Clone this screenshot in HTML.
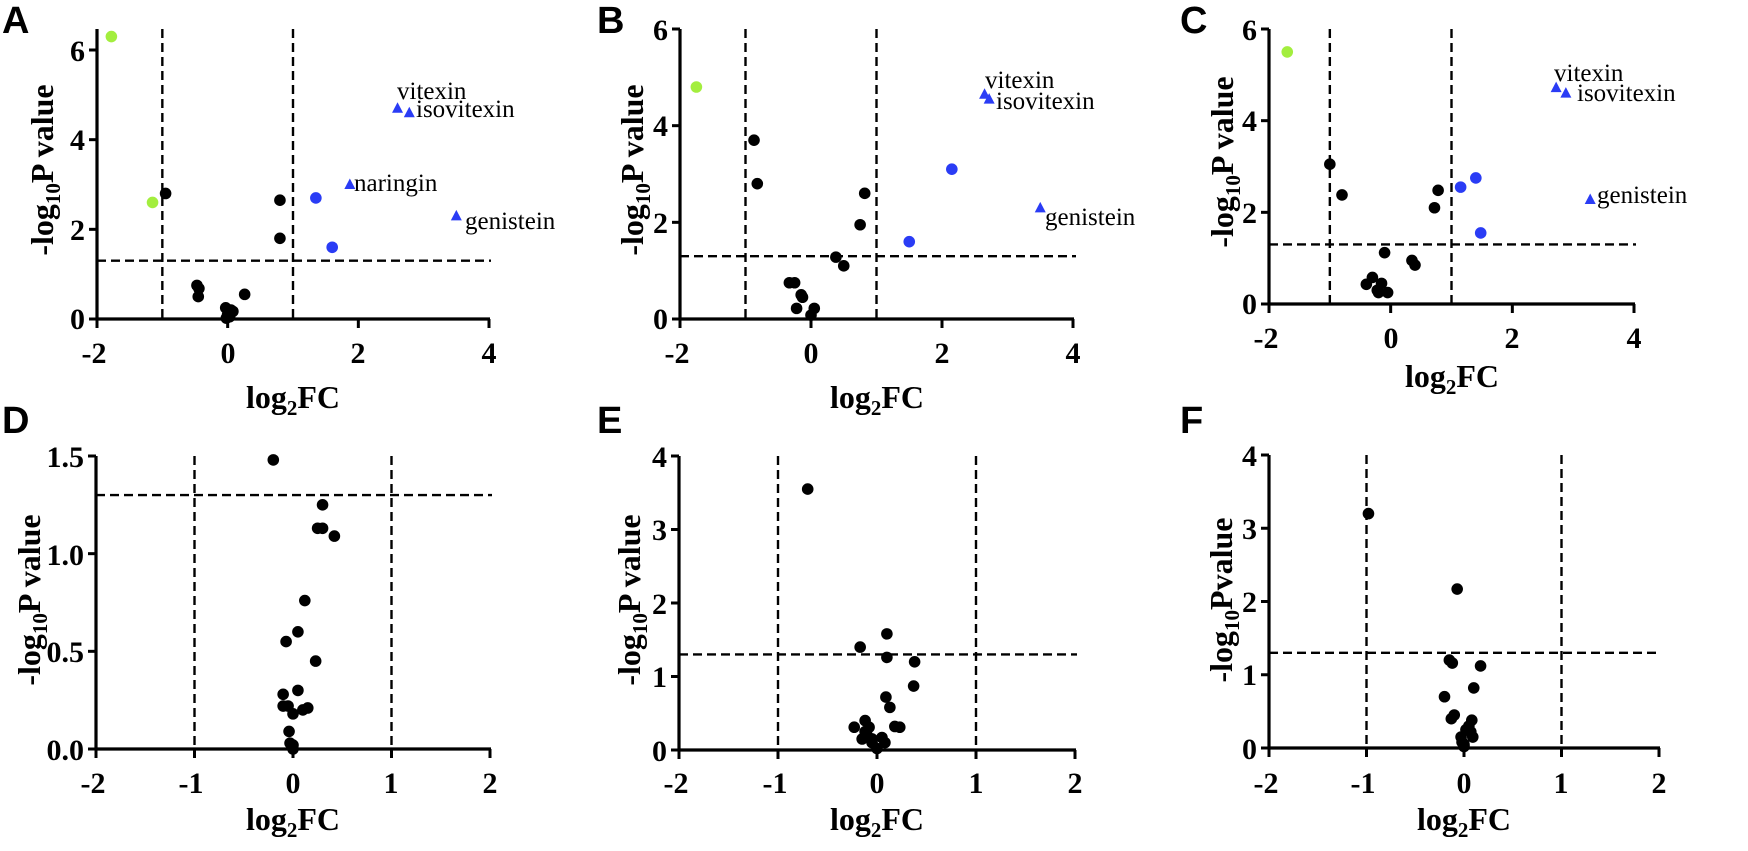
<!DOCTYPE html>
<html><head><meta charset="utf-8"><style>
html,body{margin:0;padding:0;background:#fff;}
svg{display:block;}
.t{font-family:"Liberation Serif",serif;font-weight:bold;font-size:30px;fill:#000;}
.al{font-family:"Liberation Serif",serif;font-weight:bold;font-size:32px;fill:#000;}
.nm{font-family:"Liberation Serif",serif;font-size:25px;fill:#000;}
.L{font-family:"Liberation Sans",sans-serif;font-weight:bold;font-size:38px;fill:#000;}
</style></head><body>
<svg id="s" width="1748" height="851" viewBox="0 0 1748 851" xmlns="http://www.w3.org/2000/svg">
<g id="g"></g>
<text class="L" x="2" y="33">A</text>
<text class="L" x="597" y="33">B</text>
<text class="L" x="1180" y="33">C</text>
<text class="L" x="2" y="433">D</text>
<text class="L" x="597" y="433">E</text>
<text class="L" x="1180" y="433">F</text>

<g class="t" text-anchor="end">
<text x="85" y="329">0</text><text x="85" y="240">2</text><text x="85" y="150">4</text><text x="85" y="61">6</text>
<text x="668" y="329">0</text><text x="668" y="233">2</text><text x="668" y="136">4</text><text x="668" y="40">6</text>
<text x="1257" y="314">0</text><text x="1257" y="223">2</text><text x="1257" y="131">4</text><text x="1257" y="40">6</text>
<text x="84" y="760">0.0</text><text x="84" y="662">0.5</text><text x="84" y="565">1.0</text><text x="84" y="467">1.5</text>
<text x="667" y="761">0</text><text x="667" y="687">1</text><text x="667" y="614">2</text><text x="667" y="540">3</text><text x="667" y="467">4</text>
<text x="1257" y="759">0</text><text x="1257" y="685">1</text><text x="1257" y="612">2</text><text x="1257" y="539">3</text><text x="1257" y="466">4</text>
</g>
<g class="t" text-anchor="middle">
<text x="94" y="363">-2</text><text x="228" y="363">0</text><text x="358" y="363">2</text><text x="489" y="363">4</text>
<text x="677" y="363">-2</text><text x="811" y="363">0</text><text x="942" y="363">2</text><text x="1073" y="363">4</text>
<text x="1266" y="348">-2</text><text x="1391" y="348">0</text><text x="1512" y="348">2</text><text x="1634" y="348">4</text>
<text x="93" y="793">-2</text><text x="191" y="793">-1</text><text x="293" y="793">0</text><text x="391" y="793">1</text><text x="490" y="793">2</text>
<text x="676" y="793">-2</text><text x="775" y="793">-1</text><text x="877" y="793">0</text><text x="976" y="793">1</text><text x="1075" y="793">2</text>
<text x="1266" y="793">-2</text><text x="1363" y="793">-1</text><text x="1464" y="793">0</text><text x="1561" y="793">1</text><text x="1659" y="793">2</text>
</g>
<g class="al" text-anchor="middle">
<text x="293" y="408">log<tspan font-size="21" dy="7">2</tspan><tspan dy="-7">FC</tspan></text>
<text x="877" y="408">log<tspan font-size="21" dy="7">2</tspan><tspan dy="-7">FC</tspan></text>
<text x="1452" y="387">log<tspan font-size="21" dy="7">2</tspan><tspan dy="-7">FC</tspan></text>
<text x="293" y="830">log<tspan font-size="21" dy="7">2</tspan><tspan dy="-7">FC</tspan></text>
<text x="877" y="830">log<tspan font-size="21" dy="7">2</tspan><tspan dy="-7">FC</tspan></text>
<text x="1464" y="830">log<tspan font-size="21" dy="7">2</tspan><tspan dy="-7">FC</tspan></text>
</g>
<g class="al" text-anchor="middle">
<text transform="translate(53,170) rotate(-90)">-log<tspan font-size="21" dy="7">10</tspan><tspan dy="-7">P value</tspan></text>
<text transform="translate(643,170) rotate(-90)">-log<tspan font-size="21" dy="7">10</tspan><tspan dy="-7">P value</tspan></text>
<text transform="translate(1233,162) rotate(-90)">-log<tspan font-size="21" dy="7">10</tspan><tspan dy="-7">P value</tspan></text>
<text transform="translate(40,600) rotate(-90)">-log<tspan font-size="21" dy="7">10</tspan><tspan dy="-7">P value</tspan></text>
<text transform="translate(640,600) rotate(-90)">-log<tspan font-size="21" dy="7">10</tspan><tspan dy="-7">P value</tspan></text>
<text transform="translate(1232,600) rotate(-90)">-log<tspan font-size="21" dy="7">10</tspan><tspan dy="-7">Pvalue</tspan></text>
</g>
<g class="nm">
<text x="397" y="99">vitexin</text><text x="416" y="117">isovitexin</text>
<text x="354" y="191">naringin</text><text x="465" y="229">genistein</text>
<text x="985" y="88">vitexin</text><text x="996" y="109">isovitexin</text><text x="1045" y="225">genistein</text>
<text x="1554" y="81">vitexin</text><text x="1577" y="101">isovitexin</text><text x="1597" y="203">genistein</text>
</g>
</svg>
<script>
var NS="http://www.w3.org/2000/svg",g=document.getElementById("g");
function el(n,a){var e=document.createElementNS(NS,n);for(var k in a)e.setAttribute(k,a[k]);g.appendChild(e);return e;}
var GR="#a3ee3e",BL="#2a3cf5";
var P=[
{x0:97,x1:489,xa:-2,xb:4,y0:319,yt:50,yv:6,top:29,hend:491,yt_ticks:[0,2,4,6],xt:[-2,0,2,4],
 pts:[[-1.78,6.3,GR],[-1.15,2.6,GR],[-0.95,2.8],[0.8,2.65],[0.8,1.8],[1.35,2.7,BL],[1.6,1.6,BL],[-0.47,0.75],[-0.44,0.68],[-0.45,0.5],[0.26,0.55],[-0.03,0.25],[0.05,0.2],[0,0.1],[0.03,0.05],[0.08,0.17],[-0.02,0.02]],
 tri:[[2.6,4.7],[2.78,4.6],[1.87,3.0],[3.5,2.3]]},
{x0:680,x1:1073,xa:-2,xb:4,y0:319,yt:29,yv:6,top:29,hend:1076,yt_ticks:[0,2,4,6],xt:[-2,0,2,4],
 pts:[[-1.75,4.8,GR],[-0.87,3.7],[-0.82,2.8],[0.82,2.6],[0.75,1.95],[0.38,1.28],[0.5,1.1],[-0.33,0.75],[-0.25,0.75],[-0.15,0.5],[-0.13,0.45],[-0.22,0.22],[0.05,0.22],[0,0.08],[2.15,3.1,BL],[1.5,1.6,BL]],
 tri:[[2.65,4.65],[2.72,4.55],[3.5,2.3]]},
{x0:1269,x1:1634,xa:-2,xb:4,y0:304,yt:29,yv:6,top:29,hend:1636,yt_ticks:[0,2,4,6],xt:[-2,0,2,4],
 pts:[[-1.7,5.5,GR],[-1,3.05],[-0.8,2.38],[0.78,2.48],[0.72,2.1],[-0.1,1.12],[0.35,0.95],[0.4,0.85],[-0.3,0.58],[-0.4,0.43],[-0.15,0.45],[-0.22,0.3],[-0.2,0.25],[-0.05,0.25],[1.15,2.55,BL],[1.4,2.75,BL],[1.48,1.55,BL]],
 tri:[[2.72,4.72],[2.88,4.6],[3.28,2.28]]},
{x0:96,x1:490,xa:-2,xb:2,y0:749,yt:456,yv:1.5,top:456,hend:492,yt_ticks:[0,0.5,1,1.5],xt:[-2,-1,0,1,2],
 pts:[[-0.2,1.48],[0.3,1.25],[0.25,1.13],[0.3,1.13],[0.42,1.09],[0.12,0.76],[0.05,0.6],[-0.07,0.55],[0.23,0.45],[0.05,0.3],[-0.1,0.28],[-0.1,0.22],[-0.05,0.22],[0.1,0.2],[0.15,0.21],[0,0.18],[-0.04,0.09],[-0.03,0.03],[0,0.02],[0,0]],tri:[]},
{x0:679,x1:1075,xa:-2,xb:2,y0:750,yt:456,yv:4,top:456,hend:1077,yt_ticks:[0,1,2,3,4],xt:[-2,-1,0,1,2],
 pts:[[-0.7,3.55],[0.1,1.58],[-0.17,1.4],[0.1,1.26],[0.38,1.2],[0.37,0.87],[0.09,0.72],[0.13,0.58],[-0.12,0.4],[-0.23,0.31],[-0.08,0.31],[0.18,0.32],[0.23,0.31],[-0.12,0.25],[-0.1,0.2],[-0.15,0.15],[-0.05,0.15],[0.05,0.17],[0.08,0.1],[-0.05,0.1],[0,0.02]],tri:[]},
{x0:1269,x1:1659,xa:-2,xb:2,y0:748,yt:455,yv:4,top:455,hend:1660,yt_ticks:[0,1,2,3,4],xt:[-2,-1,0,1,2],
 pts:[[-0.98,3.2],[-0.07,2.17],[-0.15,1.2],[-0.12,1.16],[0.17,1.12],[0.1,0.82],[-0.2,0.7],[-0.1,0.45],[-0.13,0.4],[0.08,0.38],[0.05,0.3],[0.02,0.25],[0.07,0.22],[0.09,0.15],[-0.03,0.15],[-0.02,0.08],[0,0.05],[0,0.02]],tri:[]}
];
P.forEach(function(p){
 var X=function(v){return p.x0+(v-p.xa)*(p.x1-p.x0)/(p.xb-p.xa);};
 var Y=function(v){return p.y0-v*(p.y0-p.yt)/p.yv;};
 var d={stroke:"#000","stroke-width":2.4,"stroke-dasharray":"9,5",fill:"none"};
 el("line",Object.assign({x1:X(-1),x2:X(-1),y1:p.top,y2:p.y0},d));
 el("line",Object.assign({x1:X(1),x2:X(1),y1:p.top,y2:p.y0},d));
 el("line",Object.assign({x1:p.x0,x2:p.hend,y1:Y(1.3),y2:Y(1.3)},d));
 el("line",{x1:p.x0,x2:p.x0,y1:p.top,y2:p.y0+1,stroke:"#000","stroke-width":3.2});
 el("line",{x1:p.x0-1,x2:p.x1+1,y1:p.y0,y2:p.y0,stroke:"#000","stroke-width":3.2});
 p.yt_ticks.forEach(function(t){el("line",{x1:p.x0-8,x2:p.x0,y1:Y(t),y2:Y(t),stroke:"#000","stroke-width":3});});
 p.xt.forEach(function(t){el("line",{x1:X(t),x2:X(t),y1:p.y0,y2:p.y0+9,stroke:"#000","stroke-width":3});});
 p.pts.forEach(function(q){el("circle",{cx:X(q[0]),cy:Y(q[1]),r:5.8,fill:q[2]||"#000"});});
 p.tri.forEach(function(q){var x=X(q[0]),y=Y(q[1]);el("polygon",{points:(x-5.5)+","+(y+4.5)+" "+(x+5.5)+","+(y+4.5)+" "+x+","+(y-6),fill:BL});});
});
</script>
</body></html>
